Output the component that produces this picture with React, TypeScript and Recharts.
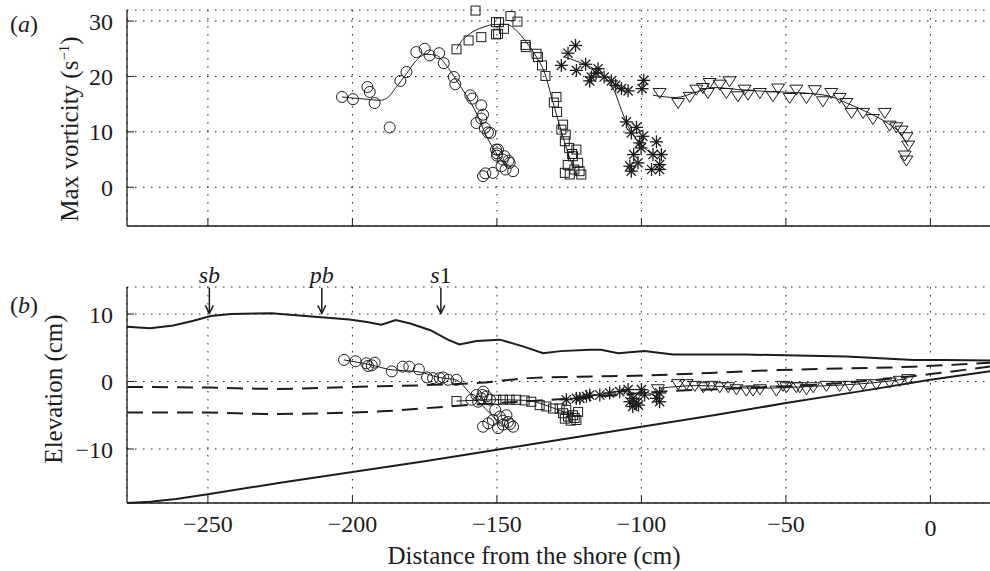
import {
  CartesianGrid,
  ComposedChart,
  Line,
  ReferenceLine,
  Scatter,
  XAxis,
  YAxis,
} from "recharts";

type Pt = [number, number];

const SERIF = '"Liberation Serif", "DejaVu Serif", serif';
const INK = "#1c1c1c";

// axes
const xDomain: [number, number] = [-278, 22];
const xTicks = [-250, -200, -150, -100, -50, 0];
const vortDomain: [number, number] = [-7, 32];
const vortTicks = [0, 10, 20, 30];
const elevDomain: [number, number] = [-18, 14];
const elevTicks = [-10, 0, 10];

// (a) max vorticity, four runs + smooth fits
const vortCircles: Pt[] = [
  [-203.6, 16.3], [-199.8, 15.9], [-194.8, 18.1], [-194, 17.2], [-192.3, 15.2],
  [-187.1, 10.8], [-183.4, 19.2], [-181.3, 20.8], [-177.9, 24.4], [-175, 25.0],
  [-173.3, 23.8], [-170, 24.2], [-168.4, 22.4], [-164.9, 19.9], [-164.4, 18.6],
  [-159.2, 16.6], [-158.5, 16.0], [-155.4, 14.8], [-154.8, 13.1], [-155.4, 12.4],
  [-157.1, 11.6], [-154.2, 10.7], [-153.1, 9.9], [-152.3, 9.8], [-150.3, 6.8],
  [-150, 5.7], [-149.6, 6.8], [-147.4, 5.6], [-145.6, 4.4], [-144.4, 2.9],
  [-148.4, 3.8], [-151.4, 2.6], [-154.8, 2.0], [-154, 2.5], [-148, 5.0],
  [-149.9, 6.1], [-147, 3.2], [-146, 4.8],
];
const vortCirclesFit: Pt[] = [
  [-203.6, 16.3], [-199.8, 16.1], [-195.3, 15.9], [-190.6, 15.7], [-188.3, 16.0],
  [-184.8, 18.1], [-181.3, 20.5], [-177.9, 22.9], [-174.4, 24.0], [-170.9, 23.8],
  [-167.5, 22.0], [-164, 19.3], [-160.6, 16.6], [-157.1, 13.4], [-153.6, 9.2],
  [-150.3, 6.2], [-148, 4.5], [-146.5, 3.6],
];
const vortSquares: Pt[] = [
  [-164, 24.9], [-159.8, 26.5], [-155.4, 27.1], [-157.4, 31.9], [-150.3, 29.8],
  [-150.3, 27.6], [-149.3, 29.8], [-149.6, 27.7], [-147.6, 28.6], [-145.3, 30.9],
  [-142.9, 29.9], [-140.1, 25.7], [-140, 25.3], [-136.3, 24.1], [-135.8, 23.5],
  [-134.4, 22.0], [-133.2, 20.1], [-129.4, 16.3], [-130.3, 15.3], [-129.2, 13.6],
  [-127.1, 11.3], [-127.7, 10.4], [-126.2, 9.5], [-126.5, 8.3], [-125, 7.1],
  [-122.5, 6.8], [-123.7, 5.6], [-121.9, 4.4], [-121.4, 2.9], [-126.5, 2.6],
  [-124.8, 2.3], [-120.8, 2.3], [-123.2, 3.2], [-125.5, 4.0], [-124, 6.0],
];
const vortSquaresFit: Pt[] = [
  [-164, 24.9], [-162.9, 25.9], [-159.4, 27.7], [-154.8, 28.9], [-150.6, 29.4],
  [-146.7, 29.4], [-143.3, 28.3], [-139.8, 26.2], [-136.3, 23.5], [-133.4, 20.5],
  [-131.1, 16.3], [-128.9, 12.2], [-126.5, 8.0], [-124.2, 4.4], [-122.5, 2.3],
];
const vortStars: Pt[] = [
  [-122.8, 25.6], [-125.4, 24.2], [-127.7, 22.0], [-122.5, 21.1], [-119.3, 22.2],
  [-117.3, 19.9], [-117.9, 19.2], [-115, 21.4], [-115.7, 20.6], [-112.9, 19.9],
  [-110.4, 19.2], [-108.9, 18.4], [-106.9, 17.8], [-104.6, 17.4], [-99.2, 19.3],
  [-99.8, 17.8], [-105.2, 11.8], [-101.7, 10.8], [-103.5, 9.8], [-99.5, 9.2],
  [-94.8, 8.2], [-100.6, 8.0], [-100.1, 7.1], [-102.7, 5.9], [-96, 5.9],
  [-93.1, 5.9], [-101.2, 4.4], [-104, 3.8], [-93.7, 4.1], [-96.5, 3.2],
  [-93.7, 3.2], [-103.5, 2.9],
];
const vortStarsFit: Pt[] = [
  [-126.5, 23.5], [-120.2, 22.3], [-115.6, 21.1], [-112.1, 19.6], [-109.2, 17.2],
  [-106.9, 13.9], [-104.6, 11.0], [-101.7, 8.6], [-98.3, 6.8], [-94.8, 5.3],
];
const vortTriangles: Pt[] = [
  [-93.7, 17.2], [-87.3, 15.4], [-83.3, 16.5], [-81, 17.8], [-78.7, 18.1],
  [-76.4, 19.0], [-77, 17.2], [-72.9, 18.7], [-69.5, 19.3], [-70.6, 17.2],
  [-66.6, 16.6], [-64.3, 17.8], [-63.1, 16.9], [-59, 17.2], [-54.5, 16.6],
  [-52.7, 18.0], [-48.7, 16.3], [-46.4, 17.8], [-42.9, 16.3], [-40, 17.7],
  [-37.2, 15.7], [-34.3, 17.2], [-31.4, 16.3], [-29.1, 15.4], [-27.3, 13.6],
  [-23.3, 13.6], [-19.9, 12.5], [-15.8, 13.6], [-14.1, 11.3], [-11.8, 11.0],
  [-10, 10.4], [-8.3, 9.2], [-7.7, 7.7], [-8.9, 5.9], [-8.3, 5.0],
];
const vortTrianglesFit: Pt[] = [
  [-96, 16.6], [-88, 16.2], [-81, 17.2], [-75, 18.0], [-64, 17.5], [-52, 17.2],
  [-41, 16.9], [-34, 16.3], [-29, 15.2], [-22, 13.6], [-15, 11.6], [-10.6, 9.8],
  [-7.7, 7.4],
];

// (b) elevation profiles
const crestLevel: Pt[] = [
  [-278, 8.1], [-270, 7.9], [-262, 8.3], [-255, 9.0], [-249, 9.7], [-242, 10.0],
  [-228, 10.1], [-213, 9.6], [-201, 9.2], [-195, 8.8], [-190, 8.4], [-185, 9.1],
  [-180, 8.6], [-173, 7.6], [-167, 6.2], [-163, 5.5], [-157, 6.0], [-149, 6.2],
  [-141, 5.2], [-134, 4.2], [-128, 4.5], [-118, 4.7], [-114, 4.7], [-108, 4.2],
  [-99, 4.5], [-89, 4.0], [-64, 4.0], [-42, 3.8], [-29, 3.7], [-6, 3.2],
  [5, 3.2], [22, 3.1],
];
const bedLevel: Pt[] = [
  [-278, -18], [-270, -17.8], [-261, -17.4], [-250, -16.7], [-225, -15.0],
  [-200, -13.4], [-175, -11.8], [-150, -10.1], [-125, -8.4], [-100, -6.7],
  [-75, -5.0], [-50, -3.2], [-25, -1.5], [0, 0.25], [22, 1.6],
];
const meanLevel: Pt[] = [
  [-278, -0.8], [-250, -0.9], [-226, -1.1], [-200, -0.8], [-172, -0.5],
  [-156, -0.2], [-139, 0.5], [-98, 0.9], [-52, 1.7], [-6, 2.2], [22, 2.8],
];
const troughLevel: Pt[] = [
  [-278, -4.6], [-250, -4.6], [-230, -4.8], [-200, -4.6], [-185, -4.3],
  [-170, -3.8], [-150, -3.2], [-120, -2.4], [-93, -1.5], [-60, -0.9],
  [-30, -0.2], [0, 1.1], [22, 2.3],
];
const elevCircles: Pt[] = [
  [-202.9, 3.2], [-198.9, 3.0], [-195.2, 2.7], [-194.6, 2.3], [-193.3, 2.4],
  [-192.3, 2.8], [-186.4, 1.5], [-182.6, 2.2], [-180.3, 2.2], [-177, 1.8],
  [-174.2, 0.6], [-172.1, 0.5], [-169.8, 0.5], [-168.6, 0.6], [-166.9, 0.25],
  [-164, 0.25], [-157.1, -2.0], [-155.4, -2.5], [-153.6, -2.2], [-154.7, -1.5],
  [-156.5, -3.0], [-158.8, -2.7], [-152.4, -2.7], [-155, -2.0], [-154.8, -6.7],
  [-153, -6.2], [-151.4, -5.7], [-149, -5.2], [-147.9, -6.4], [-146.2, -6.0],
  [-144.4, -6.7], [-149.6, -6.9], [-146.7, -5.0], [-150.6, -4.2], [-148, -5.8],
  [-145.5, -6.3],
];
const elevCirclesPath: Pt[] = [
  [-202.9, 3.2], [-194, 2.5], [-186, 1.7], [-178, 1.5], [-170, 0.6], [-164, 0.2],
  [-159.4, -1.7], [-153.6, -4.2], [-149, -6.2],
];
const elevSquares: Pt[] = [
  [-164, -2.9], [-150.2, -2.7], [-147.9, -2.7], [-145.6, -2.7], [-143.3, -2.7],
  [-140.4, -2.8], [-138.1, -3.0], [-135.2, -3.5], [-132.9, -3.7], [-130.6, -4.0],
  [-128.3, -4.0], [-127.1, -4.7], [-126, -4.2], [-125.4, -5.2], [-123.7, -5.0],
  [-123.1, -5.4], [-121.9, -4.5], [-124.5, -5.8], [-126.5, -5.5], [-122.5, -5.7],
];
const elevSquaresPath: Pt[] = [
  [-164, -2.9], [-150, -2.7], [-140, -2.8], [-130, -4.0], [-124, -5.0],
];
const elevStars: Pt[] = [
  [-126, -2.7], [-122.5, -2.5], [-121.3, -2.5], [-119, -2.2], [-117.9, -2.0],
  [-114.4, -2.0], [-111, -1.7], [-107.5, -1.5], [-104.6, -1.2], [-102.9, -2.5],
  [-101.7, -3.2], [-104, -3.0], [-100, -1.2], [-98.9, -2.0], [-94.8, -2.5],
  [-93.7, -1.7], [-93.7, -3.0], [-103, -3.7], [-101, -3.5],
];
const elevStarsPath: Pt[] = [
  [-126, -2.7], [-115, -2.0], [-105, -1.3], [-102, -2.8], [-99, -1.6], [-94, -2.4],
];
const elevTriangles: Pt[] = [
  [-94.3, -1.0], [-87.3, -0.25], [-84.4, -0.25], [-81.5, -0.5], [-78.6, -0.7],
  [-75.8, -0.5], [-72.9, -0.7], [-70, -0.7], [-67.1, -1.0], [-63.7, -1.2],
  [-61.4, -1.2], [-59, -1.0], [-53.3, -1.2], [-51, -0.5], [-49.8, -0.7],
  [-46.4, -0.7], [-45.2, -0.7], [-42.9, -1.0], [-40.6, -0.7], [-36, -0.5],
  [-31.4, -0.5], [-27.9, -0.5], [-23.3, -0.25], [-18.7, -0.25], [-14.1, 0],
  [-10.6, 0.25], [-7.7, 0.5],
];
const elevTrianglesPath: Pt[] = [
  [-94, -1.0], [-80, -0.6], [-60, -1.0], [-40, -0.7], [-20, -0.2], [-8, 0.4],
];

// breaker markers above panel (b)
const breakMarks = [
  { name: "sb", x: -249.5 },
  { name: "pb", x: -210.6 },
  { name: "s1", x: -169.4 },
];

const toRows = (pts: Pt[]) => pts.map(([x, y]) => ({ x, y }));
const fmt = (v: number) => (v < 0 ? `\u2212${Math.abs(v)}` : `${v}`);

// ---- ticks (inward tick marks, labels outside) ----
function LeftTick(props: any) {
  const { x, y, payload } = props;
  const ax = x + 14;
  return (
    <g>
      <line x1={ax} x2={ax + 7} y1={y} y2={y} stroke={INK} strokeWidth={1} />
      <text x={x} y={y} dy="0.36em" textAnchor="end" fontSize={24} fontFamily={SERIF} fill={INK}>
        {fmt(payload.value)}
      </text>
    </g>
  );
}

function BottomTickPlain(props: any) {
  const { x, y } = props;
  return <line x1={x} x2={x} y1={y} y2={y - 7} stroke={INK} strokeWidth={1} />;
}

function BottomTickLabeled(props: any) {
  const { x, y, payload } = props;
  const ay = y - 12;
  return (
    <g>
      <line x1={x} x2={x} y1={ay} y2={ay - 7} stroke={INK} strokeWidth={1} />
      <text
        x={x}
        y={y + (payload.value === 0 ? 4 : 0)}
        dy="0.71em"
        textAnchor="middle"
        fontSize={24}
        fontFamily={SERIF}
        fill={INK}
      >
        {fmt(payload.value)}
      </text>
    </g>
  );
}

function TopTick(props: any) {
  const { x, y } = props;
  return <line x1={x} x2={x} y1={y} y2={y + 7} stroke={INK} strokeWidth={1} />;
}

// ---- marker shapes ----
function OpenCircle(p: any) {
  return <circle cx={p.cx} cy={p.cy} r={5.5} fill="none" stroke={INK} strokeWidth={1} />;
}
function OpenSquare(p: any) {
  return <rect x={p.cx - 4.5} y={p.cy - 4.5} width={9} height={9} fill="none" stroke={INK} strokeWidth={1} />;
}
function Asterisk(p: any) {
  const r = 6.5;
  const d = 4.6;
  return (
    <g stroke={INK} strokeWidth={1.3}>
      <line x1={p.cx - r} y1={p.cy} x2={p.cx + r} y2={p.cy} />
      <line x1={p.cx} y1={p.cy - r} x2={p.cx} y2={p.cy + r} />
      <line x1={p.cx - d} y1={p.cy - d} x2={p.cx + d} y2={p.cy + d} />
      <line x1={p.cx - d} y1={p.cy + d} x2={p.cx + d} y2={p.cy - d} />
    </g>
  );
}
function DownTriangle(p: any) {
  const pts = `${p.cx - 6.5},${p.cy - 3.5} ${p.cx + 6.5},${p.cy - 3.5} ${p.cx},${p.cy + 6.5}`;
  return <polygon points={pts} fill="none" stroke={INK} strokeWidth={1} />;
}

function BreakArrow(props: any) {
  const { x1, y1, x2, y2, name } = props;
  return (
    <g>
      <line x1={x1} y1={y1} x2={x2} y2={y2} stroke={INK} strokeWidth={1.5} />
      <polyline
        points={`${x2 - 4},${y2 - 8} ${x2},${y2} ${x2 + 4},${y2 - 8}`}
        fill="none"
        stroke={INK}
        strokeWidth={1.5}
      />
      <text x={x1} y={y1 - 5} textAnchor="middle" fontSize={24} fontFamily={SERIF} fill={INK}>
        {name === "s1" ? (
          <>
            <tspan fontStyle="italic">s</tspan>
            <tspan>1</tspan>
          </>
        ) : (
          <tspan fontStyle="italic">{name}</tspan>
        )}
      </text>
    </g>
  );
}

const axisLine = { stroke: INK, strokeWidth: 1.3 };
const gridProps = { stroke: INK, strokeDasharray: "1.5 6.5", strokeWidth: 1 };

const fitLine = (pts: Pt[], key: string) => (
  <Line
    key={key}
    data={toRows(pts)}
    dataKey="y"
    type="monotone"
    stroke={INK}
    strokeWidth={1}
    dot={false}
    isAnimationActive={false}
  />
);

const textBase: React.CSSProperties = {
  position: "absolute",
  fontFamily: SERIF,
  color: INK,
  whiteSpace: "nowrap",
  lineHeight: 1,
};

export default function App() {
  return (
    <div
      style={{
        position: "absolute",
        left: 0,
        top: 0,
        width: 990,
        height: 571,
        overflow: "hidden",
        background: "#fff",
      }}
    >
      {/* panel (a) */}
      <div style={{ position: "absolute", left: 0, top: 0 }}>
        <ComposedChart width={1000} height={240} margin={{ top: 10, right: 6, left: 67, bottom: 0 }}>
          <CartesianGrid {...gridProps} />
          <XAxis
            dataKey="x"
            type="number"
            domain={xDomain}
            ticks={xTicks}
            interval={0}
            height={14}
            tickSize={0}
            tickMargin={0}
            tickLine={false}
            axisLine={axisLine}
            tick={BottomTickPlain}
          />
          <XAxis
            xAxisId="top"
            orientation="top"
            type="number"
            domain={xDomain}
            allowDataOverflow
            ticks={xTicks}
            interval={0}
            height={0}
            tickSize={0}
            tickMargin={0}
            tickLine={false}
            axisLine={axisLine}
            tick={TopTick}
          />
          <YAxis
            dataKey="y"
            type="number"
            domain={vortDomain}
            ticks={vortTicks}
            interval={0}
            width={60}
            tickSize={0}
            tickMargin={14}
            tickLine={false}
            axisLine={axisLine}
            tick={LeftTick}
          />
          {fitLine(vortCirclesFit, "fc")}
          {fitLine(vortSquaresFit, "fs")}
          {fitLine(vortStarsFit, "fa")}
          {fitLine(vortTrianglesFit, "ft")}
          <Scatter data={toRows(vortCircles)} shape={OpenCircle} isAnimationActive={false} />
          <Scatter data={toRows(vortSquares)} shape={OpenSquare} isAnimationActive={false} />
          <Scatter data={toRows(vortStars)} shape={Asterisk} isAnimationActive={false} />
          <Scatter data={toRows(vortTriangles)} shape={DownTriangle} isAnimationActive={false} />
        </ComposedChart>
      </div>

      {/* panel (b) */}
      <div style={{ position: "absolute", left: 0, top: 247 }}>
        <ComposedChart width={1000} height={316} margin={{ top: 40, right: 6, left: 67, bottom: 0 }}>
          <CartesianGrid {...gridProps} />
          <XAxis
            dataKey="x"
            type="number"
            domain={xDomain}
            ticks={xTicks}
            interval={0}
            height={60}
            tickSize={0}
            tickMargin={12}
            tickLine={false}
            axisLine={axisLine}
            tick={BottomTickLabeled}
          />
          <XAxis
            xAxisId="top"
            orientation="top"
            type="number"
            domain={xDomain}
            allowDataOverflow
            ticks={xTicks}
            interval={0}
            height={0}
            tickSize={0}
            tickMargin={0}
            tickLine={false}
            axisLine={axisLine}
            tick={TopTick}
          />
          <YAxis
            dataKey="y"
            type="number"
            domain={elevDomain}
            ticks={elevTicks}
            interval={0}
            width={60}
            tickSize={0}
            tickMargin={14}
            tickLine={false}
            axisLine={axisLine}
            tick={LeftTick}
          />
          <Line data={toRows(crestLevel)} dataKey="y" type="linear" stroke={INK} strokeWidth={2} dot={false} isAnimationActive={false} />
          <Line data={toRows(bedLevel)} dataKey="y" type="linear" stroke={INK} strokeWidth={2} dot={false} isAnimationActive={false} />
          <Line data={toRows(meanLevel)} dataKey="y" type="monotone" stroke={INK} strokeWidth={2} strokeDasharray="16 9" dot={false} isAnimationActive={false} />
          <Line data={toRows(troughLevel)} dataKey="y" type="monotone" stroke={INK} strokeWidth={2} strokeDasharray="16 9" dot={false} isAnimationActive={false} />
          {fitLine(elevCirclesPath, "pc")}
          {fitLine(elevSquaresPath, "ps")}
          {fitLine(elevStarsPath, "pa")}
          {fitLine(elevTrianglesPath, "pt")}
          <Scatter data={toRows(elevCircles)} shape={OpenCircle} isAnimationActive={false} />
          <Scatter data={toRows(elevSquares)} shape={OpenSquare} isAnimationActive={false} />
          <Scatter data={toRows(elevStars)} shape={Asterisk} isAnimationActive={false} />
          <Scatter data={toRows(elevTriangles)} shape={DownTriangle} isAnimationActive={false} />
          {breakMarks.map((m) => (
            <ReferenceLine
              key={m.name}
              segment={[
                { x: m.x, y: 13.9 },
                { x: m.x, y: 10.1 },
              ]}
              ifOverflow="visible"
              shape={(p: any) => <BreakArrow {...p} name={m.name} />}
            />
          ))}
        </ComposedChart>
      </div>

      {/* panel letters and axis titles */}
      <div style={{ ...textBase, left: 10, top: 12, fontSize: 24 }}>
        (<i>a</i>)
      </div>
      <div style={{ ...textBase, left: 10, top: 293, fontSize: 24 }}>
        (<i>b</i>)
      </div>
      <div
        style={{
          ...textBase,
          left: 69,
          top: 129,
          fontSize: 25,
          transform: "translate(-50%, -50%) rotate(-90deg)",
        }}
      >
        Max vorticity (s<sup style={{ fontSize: 15, verticalAlign: "0.55em" }}>&minus;1</sup>)
      </div>
      <div
        style={{
          ...textBase,
          left: 53,
          top: 389,
          fontSize: 25,
          transform: "translate(-50%, -50%) rotate(-90deg)",
        }}
      >
        Elevation (cm)
      </div>
      <div
        style={{
          ...textBase,
          left: 534,
          top: 555,
          fontSize: 25,
          transform: "translate(-50%, -50%)",
        }}
      >
        Distance from the shore (cm)
      </div>
    </div>
  );
}
